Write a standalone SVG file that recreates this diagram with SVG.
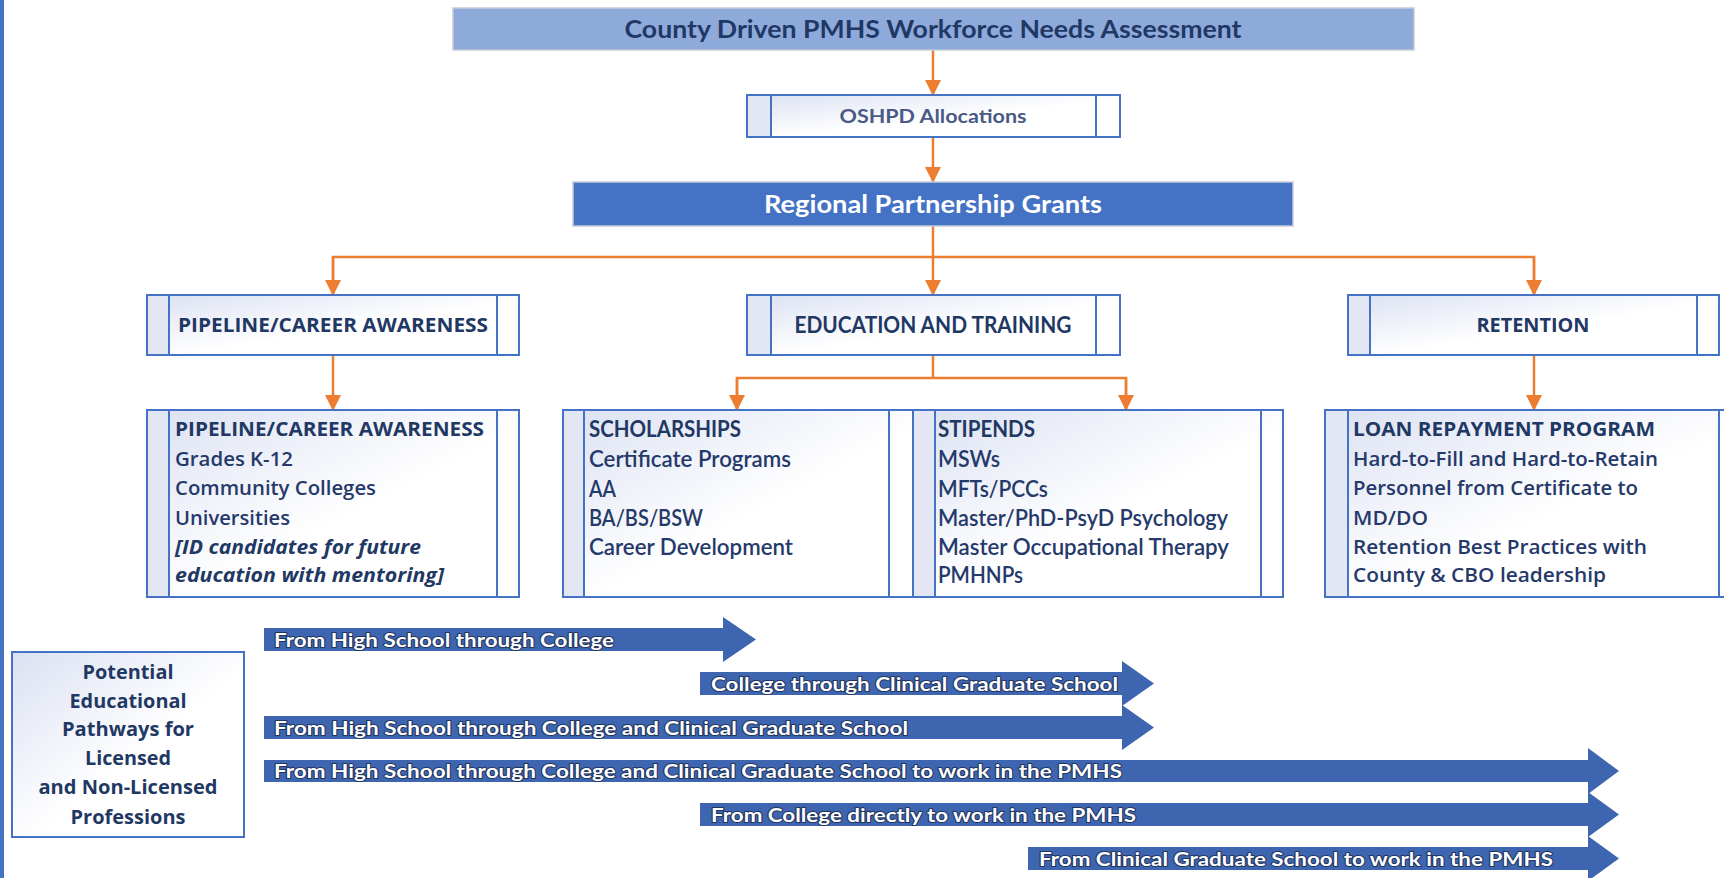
<svg xmlns="http://www.w3.org/2000/svg" width="1724" height="878" viewBox="0 0 1724 878">
<defs>
<linearGradient id="bx" x1="0" y1="0" x2="1" y2="1">
<stop offset="0" stop-color="#dbe1f2"/>
<stop offset="0.55" stop-color="#ffffff"/>
<stop offset="1" stop-color="#ffffff"/>
</linearGradient>
<marker id="ah" viewBox="0 0 16 16" refX="15" refY="8" markerWidth="16" markerHeight="16" markerUnits="userSpaceOnUse" orient="auto">
<path d="M0,0 L16,8 L0,16 z" fill="#ed7d31"/>
</marker>
<style>
.box{fill:url(#bx);stroke:#4472c4;stroke-width:2}
.strip{fill:#e3e7f4;stroke:#4472c4;stroke-width:2}
.div{stroke:#4472c4;stroke-width:2;fill:none}
.con{stroke:#ed7d31;stroke-width:2.5;fill:none}
.arr{fill:#3e65b0}
.osh{font-family:"Open Sans","DejaVu Sans",sans-serif;font-weight:700;font-size:19px;fill:#1f3864}
.osb{font-family:"Open Sans","DejaVu Sans",sans-serif;font-weight:600;font-size:19px;fill:#25396a}
.lt{font-family:Lato,"Liberation Sans",sans-serif;fill:#1f3864}
.lb{font-family:Lato,"Liberation Sans",sans-serif;font-size:22px;font-weight:600;fill:#25396a}
.lbh{font-family:Lato,"Liberation Sans",sans-serif;font-size:22px;font-weight:700;fill:#1f3864}
.at{font-family:Lato,"Liberation Sans",sans-serif;font-weight:700;font-size:19px;fill:#ffffff;stroke:#22355f;stroke-width:2;paint-order:stroke;stroke-linejoin:round}
</style>
</defs>
<rect width="1724" height="878" fill="#ffffff"/>
<rect x="0" y="0" width="4" height="878" fill="#4472c4"/>

<g id="connectors">
<line class="con" x1="933" y1="50" x2="933" y2="95" marker-end="url(#ah)"/>
<line class="con" x1="933" y1="137" x2="933" y2="182" marker-end="url(#ah)"/>
<line class="con" x1="933" y1="226" x2="933" y2="295" marker-end="url(#ah)"/>
<polyline class="con" points="333,295 333,257 1534,257 1534,295"/>
<line class="con" x1="333" y1="257" x2="333" y2="295" marker-end="url(#ah)"/>
<line class="con" x1="1534" y1="257" x2="1534" y2="295" marker-end="url(#ah)"/>
<line class="con" x1="333" y1="355" x2="333" y2="410" marker-end="url(#ah)"/>
<line class="con" x1="1534" y1="355" x2="1534" y2="410" marker-end="url(#ah)"/>
<line class="con" x1="933" y1="355" x2="933" y2="378"/>
<polyline class="con" points="737,410 737,378 1126,378 1126,410"/>
<line class="con" x1="737" y1="378" x2="737" y2="410" marker-end="url(#ah)"/>
<line class="con" x1="1126" y1="378" x2="1126" y2="410" marker-end="url(#ah)"/>
</g>

<g id="needs-assessment">
<rect x="453" y="8" width="961" height="42" fill="#8eaadb" stroke="#c3cad8" stroke-width="1.5"/>
<text class="lt" x="933" y="38" text-anchor="middle" font-size="25" font-weight="700" textLength="617" lengthAdjust="spacingAndGlyphs">County Driven PMHS Workforce Needs Assessment</text>
</g>

<g id="oshpd">
<rect class="box" x="747" y="95" width="373" height="42"/>
<rect class="strip" x="747" y="95" width="24" height="42"/>
<line class="div" x1="1096" y1="95" x2="1096" y2="137"/>
<text class="lt" x="933" y="122.5" text-anchor="middle" font-size="18" font-weight="700" style="fill:#4a5a86" textLength="187" lengthAdjust="spacingAndGlyphs">OSHPD Allocations</text>
</g>

<g id="regional">
<rect x="573" y="182" width="720" height="44" fill="#4472c4" stroke="#c3cad8" stroke-width="1.5"/>
<text x="933" y="213" text-anchor="middle" font-family="Lato, 'Liberation Sans', sans-serif" font-size="25" font-weight="700" fill="#ffffff" textLength="338" lengthAdjust="spacingAndGlyphs">Regional Partnership Grants</text>
</g>

<g id="pipeline">
<rect class="box" x="147" y="295" width="372" height="60"/>
<rect class="strip" x="147" y="295" width="22" height="60"/>
<line class="div" x1="497" y1="295" x2="497" y2="355"/>
<text class="osh" x="333" y="332" text-anchor="middle" textLength="310" lengthAdjust="spacingAndGlyphs">PIPELINE/CAREER AWARENESS</text>
</g>

<g id="education">
<rect class="box" x="747" y="295" width="373" height="60"/>
<rect class="strip" x="747" y="295" width="24" height="60"/>
<line class="div" x1="1096" y1="295" x2="1096" y2="355"/>
<text class="lt" x="933" y="333" text-anchor="middle" font-size="22" font-weight="700" textLength="277" lengthAdjust="spacingAndGlyphs">EDUCATION AND TRAINING</text>
</g>

<g id="retention">
<rect class="box" x="1348" y="295" width="371" height="60"/>
<rect class="strip" x="1348" y="295" width="22" height="60"/>
<line class="div" x1="1697" y1="295" x2="1697" y2="355"/>
<text class="osh" x="1533" y="332" text-anchor="middle" textLength="113" lengthAdjust="spacingAndGlyphs">RETENTION</text>
</g>

<g id="pipeline-detail">
<rect class="box" x="147" y="410" width="372" height="187"/>
<rect class="strip" x="147" y="410" width="22" height="187"/>
<line class="div" x1="497" y1="410" x2="497" y2="597"/>
<text class="osh" x="175" y="436" textLength="309" lengthAdjust="spacingAndGlyphs">PIPELINE/CAREER AWARENESS</text>
<text class="osb" x="175" y="465.5" textLength="118" lengthAdjust="spacingAndGlyphs">Grades K-12</text>
<text class="osb" x="175" y="495" textLength="201" lengthAdjust="spacingAndGlyphs">Community Colleges</text>
<text class="osb" x="175" y="524.5" textLength="115" lengthAdjust="spacingAndGlyphs">Universities</text>
<text class="osh" x="175" y="553.5" font-style="italic" textLength="246" lengthAdjust="spacingAndGlyphs">[ID candidates for future</text>
<text class="osh" x="175" y="582" font-style="italic" textLength="269" lengthAdjust="spacingAndGlyphs">education with mentoring]</text>
</g>

<g id="scholarships">
<rect class="box" x="563" y="410" width="350" height="187"/>
<rect class="strip" x="563" y="410" width="21" height="187"/>
<line class="div" x1="889" y1="410" x2="889" y2="597"/>
<text class="lbh" x="589" y="437" textLength="152" lengthAdjust="spacingAndGlyphs">SCHOLARSHIPS</text>
<text class="lb" x="589" y="467" textLength="202" lengthAdjust="spacingAndGlyphs">Certificate Programs</text>
<text class="lb" x="589" y="497" textLength="27" lengthAdjust="spacingAndGlyphs">AA</text>
<text class="lb" x="589" y="526" textLength="114" lengthAdjust="spacingAndGlyphs">BA/BS/BSW</text>
<text class="lb" x="589" y="555" textLength="204" lengthAdjust="spacingAndGlyphs">Career Development</text>
</g>

<g id="stipends">
<rect class="box" x="913" y="410" width="370" height="187"/>
<rect class="strip" x="913" y="410" width="22" height="187"/>
<line class="div" x1="1261" y1="410" x2="1261" y2="597"/>
<text class="lbh" x="938" y="437" textLength="97" lengthAdjust="spacingAndGlyphs">STIPENDS</text>
<text class="lb" x="938" y="467" textLength="62" lengthAdjust="spacingAndGlyphs">MSWs</text>
<text class="lb" x="938" y="497" textLength="110" lengthAdjust="spacingAndGlyphs">MFTs/PCCs</text>
<text class="lb" x="938" y="526" textLength="290" lengthAdjust="spacingAndGlyphs">Master/PhD-PsyD Psychology</text>
<text class="lb" x="938" y="555" textLength="291" lengthAdjust="spacingAndGlyphs">Master Occupational Therapy</text>
<text class="lb" x="938" y="583" textLength="85" lengthAdjust="spacingAndGlyphs">PMHNPs</text>
</g>

<g id="loan-repayment">
<rect class="box" x="1325" y="410" width="416" height="187"/>
<rect class="strip" x="1325" y="410" width="23" height="187"/>
<line class="div" x1="1719" y1="410" x2="1719" y2="597"/>
<text class="osh" x="1353" y="436" textLength="302" lengthAdjust="spacingAndGlyphs">LOAN REPAYMENT PROGRAM</text>
<text class="osb" x="1353" y="465.5" textLength="305" lengthAdjust="spacingAndGlyphs">Hard-to-Fill and Hard-to-Retain</text>
<text class="osb" x="1353" y="495" textLength="285" lengthAdjust="spacingAndGlyphs">Personnel from Certificate to</text>
<text class="osb" x="1353" y="524.5" textLength="75" lengthAdjust="spacingAndGlyphs">MD/DO</text>
<text class="osb" x="1353" y="553.5" textLength="294" lengthAdjust="spacingAndGlyphs">Retention Best Practices with</text>
<text class="osb" x="1353" y="582" textLength="253" lengthAdjust="spacingAndGlyphs">County &amp; CBO leadership</text>
</g>

<g id="pathways-label">
<rect class="box" x="12" y="652" width="232" height="185"/>
<text class="osh" x="128" y="679" text-anchor="middle" textLength="91" lengthAdjust="spacingAndGlyphs">Potential</text>
<text class="osh" x="128" y="708" text-anchor="middle" textLength="117" lengthAdjust="spacingAndGlyphs">Educational</text>
<text class="osh" x="128" y="736" text-anchor="middle" textLength="132" lengthAdjust="spacingAndGlyphs">Pathways for</text>
<text class="osh" x="128" y="765" text-anchor="middle" textLength="86" lengthAdjust="spacingAndGlyphs">Licensed</text>
<text class="osh" x="128" y="794" text-anchor="middle" textLength="179" lengthAdjust="spacingAndGlyphs">and Non-Licensed</text>
<text class="osh" x="128" y="824" text-anchor="middle" textLength="115" lengthAdjust="spacingAndGlyphs">Professions</text>
</g>

<g id="pathway-1">
<path class="arr" d="M264,628 H723 V617 L756,639.5 L723,662 V651 H264 Z"/>
<text class="at" x="274" y="646.5" textLength="340" lengthAdjust="spacingAndGlyphs">From High School through College</text>
</g>
<g id="pathway-2">
<path class="arr" d="M700,672 H1122 V661 L1154,683.5 L1122,706 V695 H700 Z"/>
<text class="at" x="711" y="690.5" textLength="407" lengthAdjust="spacingAndGlyphs">College through Clinical Graduate School</text>
</g>
<g id="pathway-3">
<path class="arr" d="M264,716 H1122 V705 L1154,727.5 L1122,750 V739 H264 Z"/>
<text class="at" x="274" y="734.5" textLength="634" lengthAdjust="spacingAndGlyphs">From High School through College and Clinical Graduate School</text>
</g>
<g id="pathway-4">
<path class="arr" d="M264,760 H1588 V748 L1619,771 L1588,794 V782 H264 Z"/>
<text class="at" x="274" y="778" textLength="848" lengthAdjust="spacingAndGlyphs">From High School through College and Clinical Graduate School to work in the PMHS</text>
</g>
<g id="pathway-5">
<path class="arr" d="M700,803 H1588 V792 L1619,814.5 L1588,837 V826 H700 Z"/>
<text class="at" x="711" y="821.5" textLength="425" lengthAdjust="spacingAndGlyphs">From College directly to work in the PMHS</text>
</g>
<g id="pathway-6">
<path class="arr" d="M1028,847 H1588 V836 L1619,858.5 L1588,881 V870 H1028 Z"/>
<text class="at" x="1039" y="865.5" textLength="514" lengthAdjust="spacingAndGlyphs">From Clinical Graduate School to work in the PMHS</text>
</g>
</svg>
